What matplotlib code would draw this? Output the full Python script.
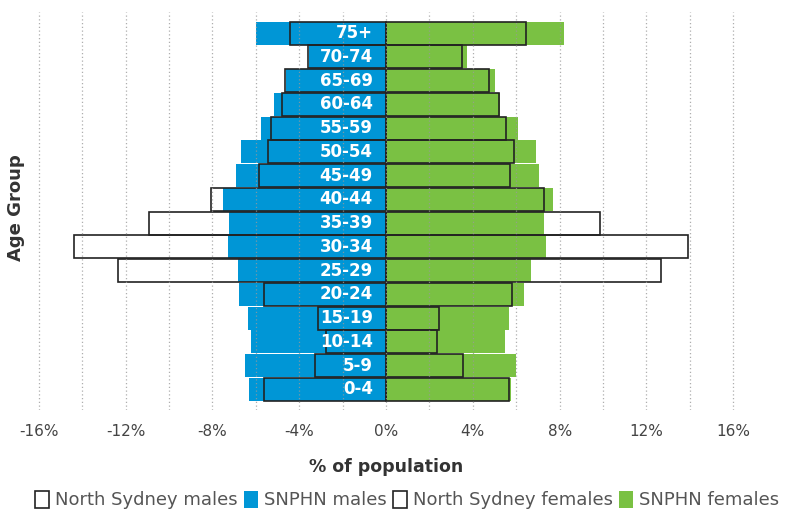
import numpy as np
import matplotlib.pyplot as plt
from matplotlib.patches import Patch

# age groups from youngest (bottom) to oldest (top)
age_groups = ['0-4', '5-9', '10-14', '15-19', '20-24', '25-29', '30-34', '35-39',
              '40-44', '45-49', '50-54', '55-59', '60-64', '65-69', '70-74', '75+']

# % of population
snphn_males = [6.32, 6.50, 6.23, 6.36, 6.77, 6.82, 7.27, 7.23,
               7.50, 6.89, 6.67, 5.76, 5.17, 4.59, 3.55, 5.99]
ns_males = [5.62, 3.26, 2.76, 3.12, 5.62, 12.36, 14.35, 10.94,
            8.05, 5.85, 5.42, 5.30, 4.79, 4.67, 3.60, 4.44]
snphn_females = [5.76, 5.99, 5.48, 5.65, 6.35, 6.69, 7.35, 7.30,
                 7.68, 7.05, 6.93, 6.07, 5.24, 5.00, 3.73, 8.19]
ns_females = [5.67, 3.53, 2.34, 2.45, 5.79, 12.65, 13.89, 9.86,
              7.29, 5.73, 5.88, 5.54, 5.22, 4.73, 3.48, 6.46]

x_ticks = [-16, -12, -8, -4, 0, 4, 8, 12, 16]

blue = '#0096d6'
green = '#7ac143'
edge = '#222222'

plt.rcParams['font.family'] = ['DejaVu Sans']

fig = plt.figure(figsize=(7.91, 5.14), dpi=100)
ax = fig.add_axes([30 / 791, 1 - 410 / 514, 712 / 791, 398 / 514])

y = np.arange(len(age_groups))
h = 0.97

ax.barh(y, -np.array(snphn_males), height=h, color=blue, zorder=1)
ax.barh(y, snphn_females, height=h, color=green, zorder=1)
ax.barh(y, -np.array(ns_males), height=h, facecolor='none', edgecolor=edge, linewidth=1.2, zorder=2)
ax.barh(y, ns_females, height=h, facecolor='none', edgecolor=edge, linewidth=1.2, zorder=2)

# dotted grid lines every 2%
for gx in range(-16, 17, 2):
    ax.axvline(gx, color='#9a9a9a', linestyle=(0, (1, 2)), linewidth=0.9, alpha=0.8, zorder=3)

for yi, lab in zip(y, age_groups):
    ax.text(-0.6, yi, lab, ha='right', va='center', color='white',
            fontsize=12, fontweight='bold', zorder=4)

ax.set_xlim(-16.4, 16.4)
ax.set_ylim(-0.87, 15.89)
ax.set_xticks(x_ticks)
ax.set_xticklabels([f'{t}%' for t in x_ticks], fontsize=11, color='#444444')
ax.tick_params(axis='x', length=0, pad=10)
ax.set_yticks([])
for s in ax.spines.values():
    s.set_visible(False)

ax.set_xlabel('% of population', fontsize=12.5, fontweight='bold', color='#333333', labelpad=14)
fig.text(16 / 791, 1 - 208 / 514, 'Age Group', rotation=90, ha='center', va='center',
         fontsize=13, fontweight='bold', color='#333333')

handles = [Patch(facecolor='white', edgecolor=edge, linewidth=1.2),
           Patch(facecolor=blue),
           Patch(facecolor='white', edgecolor=edge, linewidth=1.2),
           Patch(facecolor=green)]
labels = ['North Sydney males', 'SNPHN males', 'North Sydney females', 'SNPHN females']
fig.legend(handles, labels, loc='center', bbox_to_anchor=(407 / 791, 1 - 500 / 514), ncol=4,
           frameon=False, handlelength=0.8, handleheight=1.1, handletextpad=0.3,
           columnspacing=0.35, prop={'size': 13}, labelcolor='#555555')

fig.savefig('out.png', dpi=100)
